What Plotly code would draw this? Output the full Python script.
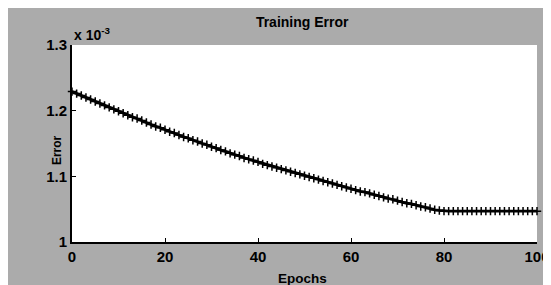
import plotly.graph_objects as go

epochs = list(range(0, 101))
error_e3 = [
    1.229, 1.226, 1.223, 1.220, 1.217, 1.214, 1.211, 1.208, 1.205, 1.202,
    1.199, 1.196, 1.193, 1.190, 1.188, 1.185, 1.182, 1.179, 1.176, 1.174,
    1.171, 1.168, 1.166, 1.163, 1.160, 1.158, 1.155, 1.153, 1.150, 1.148,
    1.145, 1.143, 1.140, 1.138, 1.135, 1.133, 1.131, 1.128, 1.126, 1.124,
    1.122, 1.119, 1.117, 1.115, 1.113, 1.111, 1.109, 1.107, 1.105, 1.103,
    1.101, 1.099, 1.097, 1.095, 1.093, 1.091, 1.089, 1.087, 1.085, 1.083,
    1.081, 1.079, 1.077, 1.076, 1.074, 1.072, 1.070, 1.068, 1.066, 1.065,
    1.063, 1.061, 1.059, 1.058, 1.056, 1.054, 1.053, 1.051, 1.049, 1.048,
    1.047, 1.047, 1.047, 1.047, 1.047, 1.047, 1.047, 1.047, 1.047, 1.047,
    1.047, 1.047, 1.047, 1.047, 1.047, 1.047, 1.047, 1.047, 1.047, 1.047,
    1.047,
]
x_ticks = [0, 20, 40, 60, 80, 100]
x_tick_labels = ["0", "20", "40", "60", "80", "100"]
y_ticks = [1.0, 1.1, 1.2, 1.3]
y_tick_labels = ["1", "1.1", "1.2", "1.3"]

FONT = "Liberation Sans, Arial, sans-serif"

fig = go.Figure()
fig.add_trace(go.Scatter(
    x=epochs, y=error_e3, mode="lines+markers",
    line=dict(color="black", width=2.8),
    marker=dict(symbol="cross-thin", size=6, color="black",
                line=dict(color="black", width=1.5)),
    showlegend=False, hoverinfo="skip", cliponaxis=False,
))

fig.update_layout(
    width=551, height=285,
    margin=dict(l=64, r=22, t=37, b=51, autoexpand=False),
    paper_bgcolor="#ababab",
    plot_bgcolor="white",
    font=dict(family=FONT, color="black", size=13),
    title=dict(text="<b>Training Error</b>", x=0.495, xref="paper", xanchor="center",
               y=0.951, yanchor="middle", font=dict(size=14)),
    xaxis=dict(range=[0, 100], tickvals=x_ticks, ticktext=x_tick_labels,
               ticks="inside", ticklen=4, tickcolor="black", tickwidth=1,
               showline=True, linecolor="black", linewidth=2, mirror=False,
               showgrid=False, zeroline=False, automargin=False,
               tickfont=dict(size=15, family=FONT, weight="bold")),
    yaxis=dict(range=[1.0, 1.3], tickvals=y_ticks, ticktext=y_tick_labels,
               ticks="inside", ticklen=4, tickcolor="black", tickwidth=1,
               showline=True, linecolor="black", linewidth=2, mirror=False,
               showgrid=False, zeroline=False, automargin=False,
               tickfont=dict(size=15, family=FONT, weight="bold")),
    annotations=[
        dict(text="<b>x 10<sup>-3</sup></b>", xref="paper", yref="paper",
             x=0.0, y=1.0, xanchor="left", yanchor="bottom", showarrow=False,
             font=dict(size=14, family=FONT)),
        dict(text="<b>Epochs</b>", xref="paper", yref="paper",
             x=0.495, y=-0.183, xanchor="center", yanchor="middle",
             showarrow=False, font=dict(size=13.5, family=FONT)),
        dict(text="<b>Error</b>", xref="paper", yref="paper",
             x=-0.032, y=0.467, xanchor="center", yanchor="middle",
             textangle=-90, showarrow=False, font=dict(size=12, family=FONT)),
    ],
)

fig.write_html("out.html")
